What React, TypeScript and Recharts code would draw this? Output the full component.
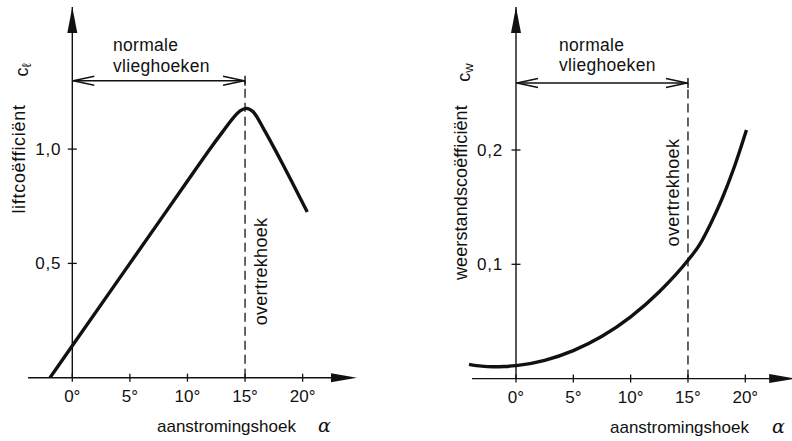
import React from 'react';
import { LineChart, Line, XAxis, YAxis, ReferenceLine, ReferenceDot } from 'recharts';

const FONT = '"Liberation Sans", Arial, Helvetica, sans-serif';
const INK = '#111';

// ---- data ----
const liftAngles = [-1.94, 0, 5, 10, 12, 13, 14, 14.6, 15.1, 15.7, 16.6, 18, 20.4];
const liftValues = [0, 0.14, 0.5, 0.86, 1.004, 1.072, 1.138, 1.168, 1.178, 1.163, 1.09, 0.96, 0.725];

const dragAngles = [-4.1, -3, -2, -1, 0, 2.5, 5, 7.5, 10, 12.5, 15, 16, 17, 18, 19, 20.1];
const dragValues = [0.0125, 0.0109, 0.0104, 0.0106, 0.0113, 0.016, 0.0245, 0.037, 0.054, 0.076, 0.1035, 0.117, 0.136, 0.158, 0.184, 0.2175];

const angleTicks = [0, 5, 10, 15, 20];
const liftTicks = [0.5, 1.0];
const liftTickLabels = ['0,5', '1,0'];
const dragTicks = [0.1, 0.2];
const dragTickLabels = ['0,1', '0,2'];
const stallAngle = 15;

const liftData = liftAngles.map((a, i) => ({ a, v: liftValues[i] }));
const dragData = dragAngles.map((a, i) => ({ a, v: dragValues[i] }));

// ---- shapes ----
const upArrow = (p: any) => (
  <polygon points={`${p.cx},${p.cy} ${p.cx - 5},${p.cy + 26} ${p.cx + 5},${p.cy + 26}`} fill={INK} />
);
const rightArrow = (p: any) => (
  <polygon points={`${p.cx},${p.cy} ${p.cx - 26},${p.cy - 4.5} ${p.cx - 26},${p.cy + 4.5}`} fill={INK} />
);
const openLeft = (p: any) => (
  <polyline points={`${p.cx + 22},${p.cy - 4.5} ${p.cx + 1},${p.cy} ${p.cx + 22},${p.cy + 4.5}`} fill="none" stroke={INK} strokeWidth={1.4} />
);
const openRight = (p: any) => (
  <g>
    <polyline points={`${p.cx - 22},${p.cy - 4.5} ${p.cx - 1},${p.cy} ${p.cx - 22},${p.cy + 4.5}`} fill="none" stroke={INK} strokeWidth={1.4} />
    <line x1={p.cx} x2={p.cx} y1={p.cy - 5} y2={p.cy + 5} stroke={INK} strokeWidth={1.4} />
  </g>
);
const yTick = (label: string, gap: number) => (p: any) => (
  <g>
    <line x1={p.cx - 4.5} x2={p.cx + 4.5} y1={p.cy} y2={p.cy} stroke={INK} strokeWidth={1.3} />
    <text x={p.cx - gap} y={p.cy + 6} textAnchor="end" fontSize={17} fontFamily={FONT} fill={INK} letterSpacing={0.8}>{label}</text>
  </g>
);
const textAt = (content: React.ReactNode, dx: number, dy: number, opts: any = {}) => (p: any) => {
  const x = p.cx + dx;
  const y = p.cy + dy;
  return (
    <text
      x={x}
      y={y}
      fontSize={opts.size ?? 17}
      fontFamily={opts.family ?? FONT}
      fontStyle={opts.italic ? 'italic' : 'normal'}
      textAnchor={opts.anchor ?? 'start'}
      letterSpacing={opts.ls ?? 0}
      fill={INK}
      transform={opts.rotate ? `rotate(-90, ${x}, ${y})` : undefined}
    >
      {content}
    </text>
  );
};
const XTick = (props: any) => {
  const { x, y, payload } = props;
  return (
    <g>
      <line x1={x} x2={x} y1={y - 4} y2={y + 4} stroke={INK} strokeWidth={1.3} />
      <text x={x} y={y + 24.5} textAnchor="middle" fontSize={17} fontFamily={FONT} fill={INK}>{`${payload.value}°`}</text>
    </g>
  );
};

type PanelProps = {
  data: { a: number; v: number }[];
  xDomain: [number, number];
  yDomain: [number, number];
  margin: { top: number; right: number; bottom: number; left: number };
  xStart: number;
  xTip: number;
  yTip: number;
  arrowVal: number;
  yTicks: number[];
  yTickLabels: string[];
  tickGap: number;
  yTitle: string;
  ySub: string;
  titleDx: number;
  titleDy: number;
  symDx: number;
  symDy: number;
  titleLs: number;
  normDx: number;
  normDy: number;
  overDx: number;
  overDy: number;
  xTitleDx: number;
  xTitleDy: number;
  alphaDx: number;
};

function Panel(p: PanelProps) {
  return (
    <LineChart width={396} height={441} data={p.data} margin={p.margin}>
      <XAxis
        dataKey="a"
        type="number"
        domain={p.xDomain}
        ticks={angleTicks}
        interval={0}
        axisLine={false}
        tickLine={false}
        tickSize={0}
        tickMargin={0}
        height={50}
        tick={<XTick />}
        allowDataOverflow
      />
      <YAxis type="number" domain={p.yDomain} hide width={0} allowDataOverflow />
      {/* axes */}
      <ReferenceLine segment={[{ x: p.xStart, y: 0 }, { x: p.xTip - 0.5, y: 0 }]} stroke={INK} strokeWidth={1.4} ifOverflow="visible" />
      <ReferenceLine segment={[{ x: 0, y: 0 }, { x: 0, y: p.yTip }]} stroke={INK} strokeWidth={1.4} ifOverflow="visible" />
      <ReferenceDot x={p.xTip} y={0} ifOverflow="visible" shape={rightArrow} />
      <ReferenceDot x={0} y={p.yTip} ifOverflow="visible" shape={upArrow} />
      {p.yTicks.map((t, i) => (
        <ReferenceDot key={t} x={0} y={t} ifOverflow="visible" shape={yTick(p.yTickLabels[i], p.tickGap)} />
      ))}
      {/* stall line and range arrow */}
      <ReferenceLine segment={[{ x: stallAngle, y: 0 }, { x: stallAngle, y: p.arrowVal }]} stroke={INK} strokeWidth={1.3} strokeDasharray="9 5" ifOverflow="visible" />
      <ReferenceLine segment={[{ x: 0, y: p.arrowVal }, { x: stallAngle, y: p.arrowVal }]} stroke={INK} strokeWidth={1.4} ifOverflow="visible" />
      <ReferenceDot x={0} y={p.arrowVal} ifOverflow="visible" shape={openLeft} />
      <ReferenceDot x={stallAngle} y={p.arrowVal} ifOverflow="visible" shape={openRight} />
      {/* texts */}
      <ReferenceDot x={0} y={p.arrowVal} ifOverflow="visible" shape={textAt('normale', p.normDx, p.normDy, { size: 17.5, ls: 0.3 })} />
      <ReferenceDot x={0} y={p.arrowVal} ifOverflow="visible" shape={textAt('vlieghoeken', p.normDx, p.normDy + 20.5, { size: 17.5, ls: 0.3 })} />
      <ReferenceDot x={stallAngle} y={0} ifOverflow="visible" shape={textAt('overtrekhoek', p.overDx, p.overDy, { size: 18, anchor: 'middle', rotate: true, ls: 0.3 })} />
      <ReferenceDot x={0} y={0} ifOverflow="visible" shape={textAt(p.yTitle, p.titleDx, p.titleDy, { size: 18, anchor: 'middle', rotate: true, ls: p.titleLs })} />
      <ReferenceDot
        x={0}
        y={0}
        ifOverflow="visible"
        shape={textAt(
          <>
            c<tspan fontSize={13} dy={3}>{p.ySub}</tspan>
          </>,
          p.symDx,
          p.symDy,
          { size: 18, anchor: 'middle', rotate: true }
        )}
      />
      <ReferenceDot x={0} y={0} ifOverflow="visible" shape={textAt('aanstromingshoek', p.xTitleDx, p.xTitleDy, { size: 17 })} />
      <ReferenceDot x={0} y={0} ifOverflow="visible" shape={textAt('α', p.alphaDx, p.xTitleDy, { size: 19, italic: true, family: '"DejaVu Serif", "Liberation Serif", serif' })} />
      <Line
        type="monotone"
        dataKey="v"
        stroke={INK}
        strokeWidth={3.4}
        dot={false}
        isAnimationActive={false}
        strokeLinecap="butt"
      />
    </LineChart>
  );
}

export default function App() {
  return (
    <div style={{ position: 'absolute', left: 0, top: 0, width: 792, height: 441, background: '#fff', overflow: 'hidden' }}>
      <div style={{ position: 'absolute', left: 0, top: 0 }}>
        <Panel
          data={liftData}
          xDomain={[-4, 25]}
          yDomain={[0, 1.65]}
          margin={{ top: 0.5, right: 35.8, bottom: 13.3, left: 26.24 }}
          xStart={-3.84}
          xTip={24.72}
          yTip={1.6216}
          arrowVal={1.299}
          yTicks={liftTicks}
          yTickLabels={liftTickLabels}
          tickGap={11}
          yTitle="liftcoëfficiënt"
          ySub="ℓ"
          titleDx={-47.3}
          titleDy={-218.7}
          symDx={-44.3}
          symDy={-307.7}
          titleLs={0.7}
          normDx={40.7}
          normDy={-29.7}
          overDx={22}
          overDy={-106.2}
          xTitleDx={84.7}
          xTitleDy={54.3}
          alphaDx={245.7}
        />
      </div>
      <div style={{ position: 'absolute', left: 396, top: 0 }}>
        <Panel
          data={dragData}
          xDomain={[-5, 24]}
          yDomain={[0, 0.33]}
          margin={{ top: 1.41, right: 0.84, bottom: 12.4, left: 62.675 }}
          xStart={-3.84}
          xTip={24.35}
          yTip={0.3251}
          arrowVal={0.2586}
          yTicks={dragTicks}
          yTickLabels={dragTickLabels}
          tickGap={13}
          yTitle="weerstandscoëfficiënt"
          ySub="w"
          titleDx={-49}
          titleDy={-186}
          symDx={-46}
          symDy={-306}
          titleLs={0.1}
          normDx={43}
          normDy={-32.5}
          overDx={-9}
          overDy={-186}
          xTitleDx={94}
          xTitleDy={54}
          alphaDx={256}
        />
      </div>
    </div>
  );
}
